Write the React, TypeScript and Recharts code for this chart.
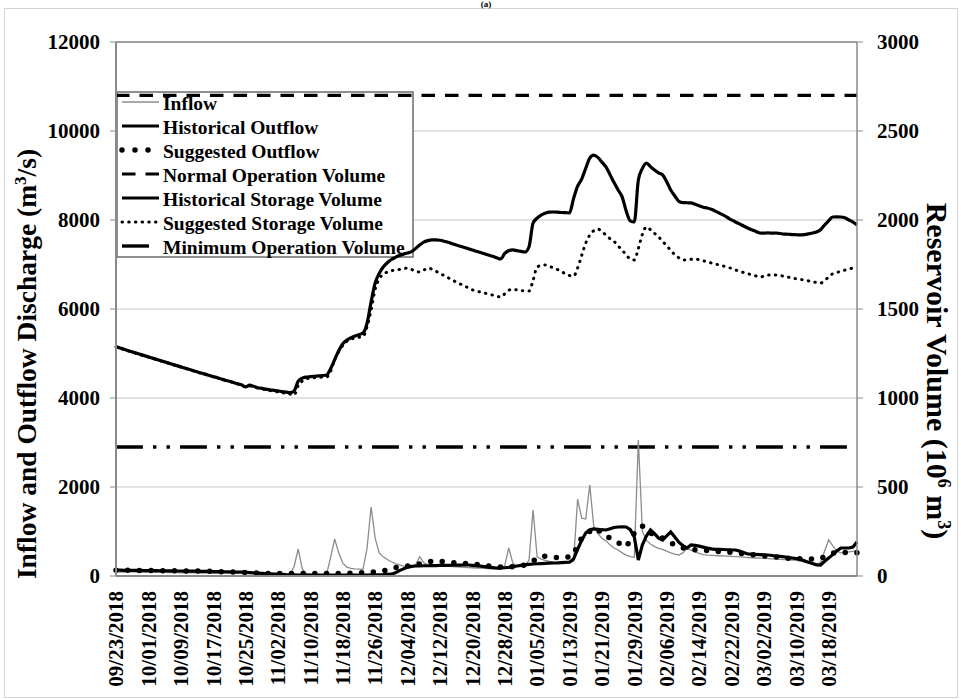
import { LineChart, Line, XAxis, YAxis, CartesianGrid, ReferenceLine } from "recharts";

const SERIF = '"Liberation Serif", "Times New Roman", serif';

// daily records, 09/23/2018 .. 03/25/2019
const START_DATE = Date.UTC(2018, 8, 23);
const DAY_COUNT = 184;

const NORMAL_OPERATION_VOLUME = 2700;
const MINIMUM_OPERATION_VOLUME = 725;

const flowTicks = [0, 2000, 4000, 6000, 8000, 10000, 12000];
const volumeTicks = [0, 500, 1000, 1500, 2000, 2500, 3000];

// m3/s, one row per 8 days
const inflow = [
  95, 90, 88, 92, 95, 90, 85, 88,
  85, 82, 80, 84, 80, 76, 78, 74,
  72, 75, 70, 68, 72, 66, 64, 68,
  62, 66, 60, 70, 64, 60, 72, 90,
  120, 75, 55, 48, 42, 40, 36, 35,
  32, 30, 30, 35, 220, 607, 160, 55,
  40, 35, 32, 30, 35, 420, 831, 520,
  290, 200, 170, 160, 155, 150, 620, 1550,
  850, 520, 430, 370, 320, 280, 250, 220,
  200, 190, 260, 434, 300, 250, 235, 225,
  220, 215, 220, 210, 205, 200, 195, 190,
  185, 180, 175, 170, 165, 160, 155, 150,
  230, 630, 290, 210, 220, 250, 350, 1483,
  430, 380, 350, 330, 310, 300, 295, 300,
  310, 330, 1730, 1300, 1280, 2045, 1108, 950,
  850, 790, 700, 630, 584, 520, 470, 434,
  420, 3056, 1000, 800, 720, 660, 620, 600,
  560, 520, 490, 472, 520, 620, 580, 540,
  510, 480, 470, 465, 460, 455, 450, 445,
  440, 435, 430, 425, 415, 410, 405, 400,
  395, 390, 385, 380, 375, 370, 365, 360,
  355, 350, 340, 320, 290, 270, 300, 560,
  809, 680, 560, 520, 530, 540, 555, 570,
];

const historicalOutflow = [
  130, 130, 128, 128, 125, 125, 125, 122,
  122, 120, 120, 118, 118, 115, 115, 112,
  112, 110, 110, 108, 108, 105, 105, 102,
  100, 100, 98, 95, 92, 90, 88, 85,
  80, 75, 70, 65, 60, 55, 50, 45,
  40, 35, 30, 28, 25, 22, 20, 20,
  20, 20, 20, 20, 20, 20, 20, 20,
  20, 20, 20, 20, 20, 20, 22, 25,
  25, 28, 30, 35, 40, 70, 120, 160,
  200, 215, 225, 228, 230, 230, 232, 235,
  238, 240, 240, 242, 245, 245, 247, 247,
  240, 230, 220, 210, 200, 190, 180, 182,
  185, 195, 210, 225, 240, 250, 260, 270,
  275, 280, 285, 290, 292, 295, 300, 305,
  310, 380, 600, 800, 966, 1040, 1060, 1050,
  1040, 1034, 1060, 1090, 1101, 1105, 1101, 1040,
  876, 360, 700, 900, 1034, 950, 850, 809,
  900, 989, 876, 760, 680, 629, 697, 690,
  670, 650, 629, 610, 600, 600, 595, 590,
  585, 584, 560, 530, 494, 490, 485, 480,
  475, 472, 460, 450, 440, 430, 415, 404,
  390, 370, 340, 310, 280, 250, 247, 330,
  404, 480, 560, 629, 629, 629, 650, 764,
];

const suggestedOutflow = [
  130, 130, 130, 128, 128, 128, 125, 125,
  125, 122, 122, 120, 120, 118, 118, 115,
  115, 112, 112, 110, 110, 108, 105, 105,
  102, 100, 98, 95, 92, 90, 85, 80,
  75, 70, 68, 65, 62, 60, 58, 56,
  55, 55, 55, 55, 55, 55, 55, 55,
  55, 55, 55, 55, 55, 55, 55, 58,
  60, 62, 65, 68, 70, 75, 80, 85,
  90, 97, 110, 140, 172, 190, 200, 209,
  225, 240, 247, 270, 290, 307, 330, 344,
  335, 320, 305, 299, 295, 290, 285, 280,
  270, 260, 250, 240, 225, 215, 205, 200,
  200, 205, 210, 220, 230, 250, 290, 337,
  400, 449, 440, 430, 427, 415, 404, 410,
  440, 472, 697, 850, 921, 1000, 1078, 1040,
  966, 900, 850, 809, 750, 700, 652, 800,
  966, 1050, 1123, 1050, 966, 920, 880, 854,
  800, 750, 697, 660, 629, 610, 600, 590,
  585, 580, 570, 560, 555, 550, 545, 540,
  530, 520, 510, 500, 490, 480, 470, 460,
  450, 445, 440, 430, 420, 410, 400, 395,
  390, 385, 380, 382, 382, 382, 390, 440,
  480, 510, 530, 540, 530, 520, 517, 520,
];

// 10^6 m3
const historicalStorage = [
  1288, 1281, 1274, 1266, 1259, 1252, 1245, 1238,
  1231, 1224, 1217, 1210, 1203, 1196, 1189, 1182,
  1175, 1168, 1161, 1154, 1147, 1140, 1134, 1127,
  1120, 1114, 1107, 1100, 1094, 1087, 1080, 1074,
  1062, 1072, 1066, 1058, 1054, 1050, 1046, 1043,
  1040, 1036, 1033, 1030, 1040, 1095, 1112, 1118,
  1120, 1122, 1124, 1126, 1129, 1165, 1215, 1265,
  1305, 1325, 1338, 1348, 1356, 1365, 1420, 1540,
  1646, 1700, 1736, 1760, 1778, 1790, 1800, 1808,
  1815, 1822, 1840, 1860, 1876, 1884, 1888, 1888,
  1886, 1881, 1875, 1867, 1860, 1853, 1846, 1839,
  1831, 1824, 1817, 1810, 1803, 1796, 1788, 1781,
  1812, 1828, 1832, 1828, 1824, 1820, 1850, 1983,
  2010, 2028, 2038, 2044, 2045, 2044, 2042, 2041,
  2040, 2120, 2190, 2230, 2290, 2348, 2365, 2352,
  2325, 2298, 2255, 2210, 2169, 2130, 2050, 1995,
  1989, 2225, 2290, 2320, 2300, 2281, 2265, 2253,
  2215, 2169, 2135, 2105, 2098, 2097, 2096, 2088,
  2080, 2072, 2067, 2060, 2050, 2039, 2027, 2014,
  2001, 1989, 1978, 1966, 1955, 1945, 1936, 1927,
  1926, 1928, 1926, 1927, 1924, 1921, 1920, 1918,
  1917, 1916, 1918, 1922, 1927, 1933, 1945, 1972,
  1995, 2017, 2018, 2017, 2012, 2000, 1988, 1972,
];

const suggestedStorage = [
  1287, 1280, 1272, 1265, 1258, 1251, 1244, 1237,
  1230, 1223, 1216, 1209, 1202, 1195, 1188, 1181,
  1174, 1167, 1160, 1153, 1146, 1139, 1132, 1126,
  1119, 1112, 1106, 1099, 1092, 1086, 1079, 1072,
  1062, 1068, 1062, 1056, 1051, 1046, 1042, 1038,
  1034, 1030, 1026, 1022, 1017, 1070, 1095, 1108,
  1112, 1114, 1116, 1117, 1118, 1150, 1215, 1260,
  1295, 1318, 1330, 1337, 1341, 1345, 1400, 1494,
  1610, 1670, 1695, 1708, 1715, 1719, 1722, 1726,
  1730, 1722, 1712, 1708, 1718, 1730, 1724, 1712,
  1700, 1688, 1676, 1663, 1652, 1641, 1630, 1619,
  1608, 1600, 1596, 1590, 1584, 1578, 1572, 1567,
  1585, 1605, 1612, 1607, 1604, 1602, 1601, 1660,
  1736, 1744, 1747, 1740, 1731, 1722, 1710, 1698,
  1688, 1685, 1730, 1800, 1870, 1915, 1940, 1949,
  1935, 1915, 1895, 1880, 1855, 1830, 1805, 1780,
  1775, 1840, 1920, 1961, 1945, 1925, 1905, 1880,
  1855, 1830, 1805, 1788, 1776, 1775, 1779, 1781,
  1777, 1771, 1765, 1759, 1753, 1747, 1741, 1735,
  1728, 1719, 1712, 1705, 1698, 1692, 1686, 1680,
  1684, 1690, 1692, 1691, 1688, 1684, 1679, 1674,
  1670, 1666, 1663, 1658, 1653, 1649, 1646, 1660,
  1680, 1698, 1705, 1712, 1718, 1724, 1730, 1733,
];

const pad = (n: number) => String(n).padStart(2, "0");

const dates = Array.from({ length: DAY_COUNT }, (_, i) => {
  const d = new Date(START_DATE + i * 86400000);
  return `${pad(d.getUTCMonth() + 1)}/${pad(d.getUTCDate())}/${d.getUTCFullYear()}`;
});

const data = dates.map((date, i) => ({
  date,
  inflow: inflow[i],
  historicalOutflow: historicalOutflow[i],
  suggestedOutflow: suggestedOutflow[i],
  historicalStorage: historicalStorage[i],
  suggestedStorage: suggestedStorage[i],
}));

const NORMAL_DASH = "13.5 10";
// long dash, dot, dot; reference lines are stroked right-to-left, so the
// pattern is offset to end on a gap at the right edge
const MINIMUM_DASH = "26.9 10.1 3.4 10.1 3.4 10.1";
const MINIMUM_DASH_OFFSET = 53.9;

const textStyle = { fontFamily: SERIF, fontWeight: "bold" as const, fill: "#000" };

function DateTick(props: any) {
  const { x, y, payload } = props;
  return (
    <text
      x={x}
      y={y}
      transform={`rotate(-90, ${x}, ${y})`}
      textAnchor="end"
      dy="0.35em"
      fontSize={21}
      {...textStyle}
    >
      {payload.value}
    </text>
  );
}

const legendRows = [
  { label: "Inflow", y: 102, stroke: "#8c8c8c", width: 1.3 },
  { label: "Historical Outflow", y: 126, stroke: "#000", width: 3.2 },
  { label: "Suggested Outflow", y: 150, stroke: "#000", width: 5.5, dash: "0 13", cap: "round", x2: 150 },
  { label: "Normal Operation Volume", y: 174, stroke: "#000", width: 3.2, dash: NORMAL_DASH },
  { label: "Historical Storage Volume", y: 198, stroke: "#000", width: 3.2 },
  { label: "Suggested Storage Volume", y: 222, stroke: "#000", width: 3, dash: "0.5 6.2", cap: "round" },
  { label: "Minimum Operation Volume", y: 246, stroke: "#000", width: 3.4, x2: 149 },
];

function LegendBox() {
  return (
    <g>
      <rect x={117} y={92} width={296} height={165} fill="#fff" stroke="#6b6b6b" strokeWidth={1.5} />
      {legendRows.map((r) => (
        <g key={r.label}>
          <line
            x1={122}
            x2={r.x2 ?? 159}
            y1={r.y}
            y2={r.y}
            stroke={r.stroke}
            strokeWidth={r.width}
            strokeDasharray={r.dash}
            strokeLinecap={(r.cap as any) ?? "butt"}
          />
          <text x={163} y={r.y + 1} dy="0.35em" fontSize={19.5} {...textStyle}>
            {r.label}
          </text>
        </g>
      ))}
    </g>
  );
}

function Titles() {
  return (
    <g>
      <text x={486} y={7} textAnchor="middle" fontSize={9} {...textStyle}>
        (a)
      </text>
      <text
        x={26}
        y={364}
        transform="rotate(-90, 26, 364)"
        textAnchor="middle"
        dy="0.35em"
        fontSize={27.5}
        {...textStyle}
      >
        Inflow and Outflow Discharge (m<tspan dy={-10} fontSize={17}>3</tspan>
        <tspan dy={10}>/s)</tspan>
      </text>
      <text
        x={937}
        y={371}
        transform="rotate(90, 937, 371)"
        textAnchor="middle"
        dy="0.35em"
        fontSize={30}
        {...textStyle}
      >
        Reservoir Volume (10<tspan dy={-11} fontSize={18}>6</tspan>
        <tspan dy={11}> m</tspan>
        <tspan dy={-11} fontSize={18}>3</tspan>
        <tspan dy={11}>)</tspan>
      </text>
    </g>
  );
}

export default function App() {
  return (
    <div style={{ position: "absolute", left: 0, top: 0, width: 961, height: 699, background: "#fff" }}>
      <div
        style={{
          position: "absolute",
          left: 4,
          top: 8,
          width: 952,
          height: 688,
          border: "1px solid #d4d4d4",
        }}
      />
      <LineChart width={961} height={699} data={data} margin={{ top: 42, right: 0, bottom: 0, left: 0 }}>
        <CartesianGrid yAxisId="left" horizontal vertical={false} stroke="#d9d9d9" strokeWidth={1.3} />
        <XAxis
          dataKey="date"
          interval={7}
          height={123}
          tick={<DateTick />}
          tickLine={false}
          tickSize={6}
          tickMargin={9}
          axisLine={{ stroke: "#8a8a8a", strokeWidth: 2 }}
        />
        <YAxis
          yAxisId="left"
          width={116}
          domain={[0, 12000]}
          ticks={flowTicks}
          tick={{ fontSize: 21, ...textStyle }}
          tickSize={6}
          tickMargin={10}
          tickLine={{ stroke: "#8a8a8a" }}
          axisLine={{ stroke: "#8a8a8a", strokeWidth: 2 }}
          allowDataOverflow
        />
        <YAxis
          yAxisId="right"
          orientation="right"
          width={104}
          domain={[0, 3000]}
          ticks={volumeTicks}
          tick={{ fontSize: 21, ...textStyle }}
          tickSize={6}
          tickMargin={14}
          tickLine={{ stroke: "#8a8a8a" }}
          axisLine={{ stroke: "#8a8a8a", strokeWidth: 1.5 }}
          allowDataOverflow
        />
        <ReferenceLine yAxisId="left" y={12000} stroke="#8a8a8a" strokeWidth={1.5} />
        <LegendBox />
        <Titles />
        <ReferenceLine
          yAxisId="right"
          y={NORMAL_OPERATION_VOLUME}
          stroke="#000"
          strokeWidth={3.2}
          strokeDasharray={NORMAL_DASH}
          strokeDashoffset={1}
        />
        <ReferenceLine
          yAxisId="right"
          y={MINIMUM_OPERATION_VOLUME}
          stroke="#000"
          strokeWidth={3.4}
          strokeDasharray={MINIMUM_DASH}
          strokeDashoffset={MINIMUM_DASH_OFFSET}
        />
        <Line
          yAxisId="left"
          dataKey="inflow"
          type="linear"
          stroke="#8c8c8c"
          strokeWidth={1.3}
          dot={false}
          activeDot={false}
          isAnimationActive={false}
        />
        <Line
          yAxisId="left"
          dataKey="historicalOutflow"
          type="linear"
          stroke="#000"
          strokeWidth={3.2}
          dot={false}
          activeDot={false}
          isAnimationActive={false}
        />
        <Line
          yAxisId="left"
          dataKey="suggestedOutflow"
          type="linear"
          stroke="#000"
          strokeWidth={5.5}
          strokeDasharray="0 11.7"
          strokeLinecap="round"
          dot={false}
          activeDot={false}
          isAnimationActive={false}
        />
        <Line
          yAxisId="right"
          dataKey="historicalStorage"
          type="monotone"
          stroke="#000"
          strokeWidth={3.2}
          dot={false}
          activeDot={false}
          isAnimationActive={false}
        />
        <Line
          yAxisId="right"
          dataKey="suggestedStorage"
          type="monotone"
          stroke="#000"
          strokeWidth={3}
          strokeDasharray="0.5 6.2"
          strokeLinecap="round"
          dot={false}
          activeDot={false}
          isAnimationActive={false}
        />
      </LineChart>
    </div>
  );
}
